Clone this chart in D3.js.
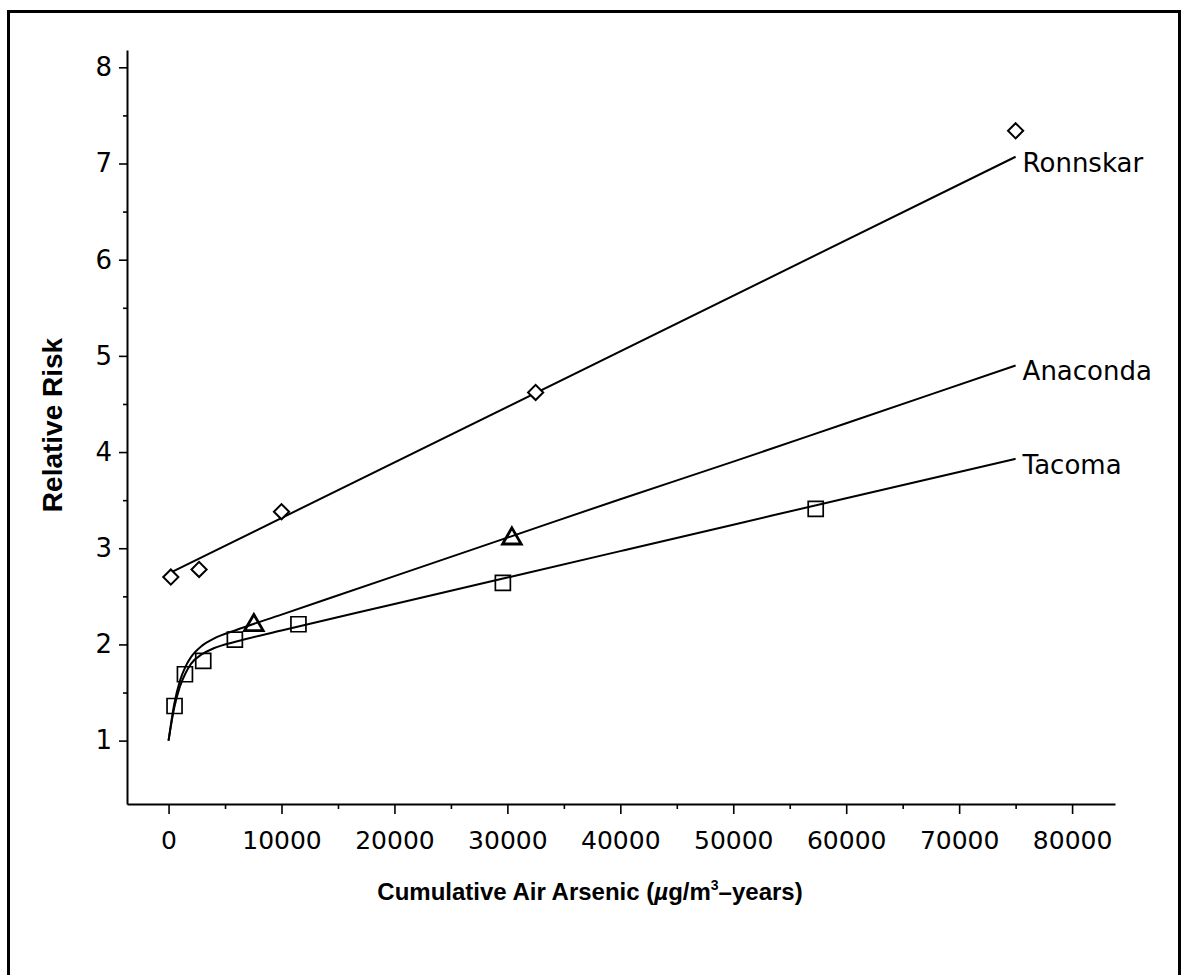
<!DOCTYPE html>
<html>
<head>
<meta charset="utf-8">
<script src="https://cdn.jsdelivr.net/npm/d3@7/dist/d3.min.js"></script>
<style>
  html, body { margin: 0; padding: 0; background: #fff; }
  svg { display: block; }
</style>
</head>
<body>
<script>
// ---- data ----
const ronnskarX = [200, 2700, 10000, 32500, 75000];
const ronnskarY = [2.70, 2.78, 3.38, 4.62, 7.34];
const anacondaX = [7550, 30400];
const anacondaY = [2.20, 3.10];
const tacomaX = [530, 1450, 3070, 5870, 11500, 29600, 57300];
const tacomaY = [1.36, 1.69, 1.83, 2.05, 2.21, 2.64, 3.41];

// fitted curves
const ronnskarFitX = [400, 75000];
const ronnskarFitY = [2.76, 7.07];
const anacondaFitX = [0, 500, 1000, 1500, 2000, 3000, 4000, 6000, 10000, 20000, 30000, 40000, 50000, 60000, 75000];
const anacondaFitY = [1.00, 1.38, 1.62, 1.77, 1.87, 1.99, 2.06, 2.15, 2.31, 2.71, 3.11, 3.51, 3.90, 4.30, 4.90];
const tacomaFitX = [0, 500, 1000, 1500, 2000, 3000, 4000, 6000, 10000, 20000, 30000, 40000, 50000, 60000, 75000];
const tacomaFitY = [1.00, 1.34, 1.56, 1.70, 1.80, 1.90, 1.96, 2.03, 2.145, 2.42, 2.695, 2.97, 3.245, 3.52, 3.93];

const seriesNames = ["Ronnskar", "Anaconda", "Tacoma"];

const xTicks = [0, 10000, 20000, 30000, 40000, 50000, 60000, 70000, 80000];
const xMinorTicks = [5000, 15000, 25000, 35000, 45000, 55000, 65000, 75000];
const yTicks = [1, 2, 3, 4, 5, 6, 7, 8];
const yMinorTicks = [1.5, 2.5, 3.5, 4.5, 5.5, 6.5, 7.5];

const xTitle = "Cumulative Air Arsenic (";
const yTitle = "Relative Risk";

// ---- drawing ----
const W = 1182, H = 975;
const svg = d3.select("body").append("svg").attr("width", W).attr("height", H);

svg.append("rect").attr("x", 8.5).attr("y", 11.5).attr("width", 1171).attr("height", 1000)
  .attr("fill", "none").attr("stroke", "#000").attr("stroke-width", 3);

const x = d3.scaleLinear().domain([-3680, 83800]).range([127, 1115]);
const y = d3.scaleLinear().domain([0.341, 8.18]).range([804, 50]);

const tickFont = "'DejaVu Sans', sans-serif";

// x axis
const gx = svg.append("g").attr("transform", "translate(0,804)");
gx.call(d3.axisBottom(x).tickValues(xTicks).tickSize(10).tickPadding(17).tickFormat(d => String(d)).tickSizeOuter(0));
gx.append("g").call(d3.axisBottom(x).tickValues(xMinorTicks).tickSize(5).tickFormat("").tickSizeOuter(0))
  .select(".domain").remove();
gx.selectAll("text").attr("font-family", tickFont).attr("font-size", 25).attr("fill", "#000");
gx.selectAll("line").attr("stroke", "#000").attr("stroke-width", 1.6);
gx.select(".domain").attr("stroke", "#000").attr("stroke-width", 2);

// y axis
const gy = svg.append("g").attr("transform", "translate(127,0)");
gy.call(d3.axisLeft(y).tickValues(yTicks).tickSize(8).tickPadding(7).tickFormat(d3.format("d")).tickSizeOuter(0));
gy.append("g").call(d3.axisLeft(y).tickValues(yMinorTicks).tickSize(4).tickFormat("").tickSizeOuter(0))
  .select(".domain").remove();
gy.selectAll("text").attr("font-family", tickFont).attr("font-size", 26).attr("fill", "#000");
gy.selectAll("line").attr("stroke", "#000").attr("stroke-width", 1.6);
gy.select(".domain").attr("stroke", "#000").attr("stroke-width", 2);

// fitted lines
const line = d3.line().x(d => x(d[0])).y(d => y(d[1])).curve(d3.curveMonotoneX);
const fits = [
  d3.zip(ronnskarFitX, ronnskarFitY),
  d3.zip(anacondaFitX, anacondaFitY),
  d3.zip(tacomaFitX, tacomaFitY)
];
svg.append("g").selectAll("path").data(fits).join("path")
  .attr("d", line).attr("fill", "none").attr("stroke", "#000").attr("stroke-width", 2);

// markers
const diamond = d3.symbol(d3.symbolSquare, 115);
svg.append("g").selectAll("path").data(d3.zip(ronnskarX, ronnskarY)).join("path")
  .attr("d", diamond)
  .attr("transform", d => `translate(${x(d[0])},${y(d[1])}) rotate(45)`)
  .attr("fill", "#fff").attr("stroke", "#000").attr("stroke-width", 2);

const tri = d3.symbol(d3.symbolTriangle, 150);
svg.append("g").selectAll("path").data(d3.zip(anacondaX, anacondaY)).join("path")
  .attr("d", tri)
  .attr("transform", d => `translate(${x(d[0])},${y(d[1])})`)
  .attr("fill", "none").attr("stroke", "#000").attr("stroke-width", 2.8);

const sq = d3.symbol(d3.symbolSquare, 225);
svg.append("g").selectAll("path").data(d3.zip(tacomaX, tacomaY)).join("path")
  .attr("d", sq)
  .attr("transform", d => `translate(${x(d[0])},${y(d[1])})`)
  .attr("fill", "none").attr("stroke", "#000").attr("stroke-width", 1.7);

// series labels at end of fitted lines
const ends = fits.map(f => f[f.length - 1]);
svg.append("g").selectAll("text").data(seriesNames).join("text")
  .attr("x", (d, i) => x(ends[i][0]) + 7)
  .attr("y", (d, i) => y(ends[i][1]) + 15)
  .attr("font-family", tickFont).attr("font-size", 26).attr("fill", "#000")
  .text(d => d);

// axis titles
const titleFont = "'Liberation Sans', Arial, sans-serif";
const xt = svg.append("text").attr("x", 590).attr("y", 900).attr("text-anchor", "middle")
  .attr("font-family", titleFont).attr("font-weight", "bold").attr("font-size", 24).attr("fill", "#000");
xt.append("tspan").text(xTitle);
xt.append("tspan").attr("font-style", "italic").text("\u00b5");
xt.append("tspan").text("g/m");
xt.append("tspan").attr("font-size", 14).attr("dy", -10).text("3");
xt.append("tspan").attr("dy", 10).text("\u2013years)");

svg.append("text").attr("transform", "translate(62,425) rotate(-90)").attr("text-anchor", "middle")
  .attr("font-family", titleFont).attr("font-weight", "bold").attr("font-size", 28).attr("fill", "#000")
  .text(yTitle);
</script>
</body>
</html>
